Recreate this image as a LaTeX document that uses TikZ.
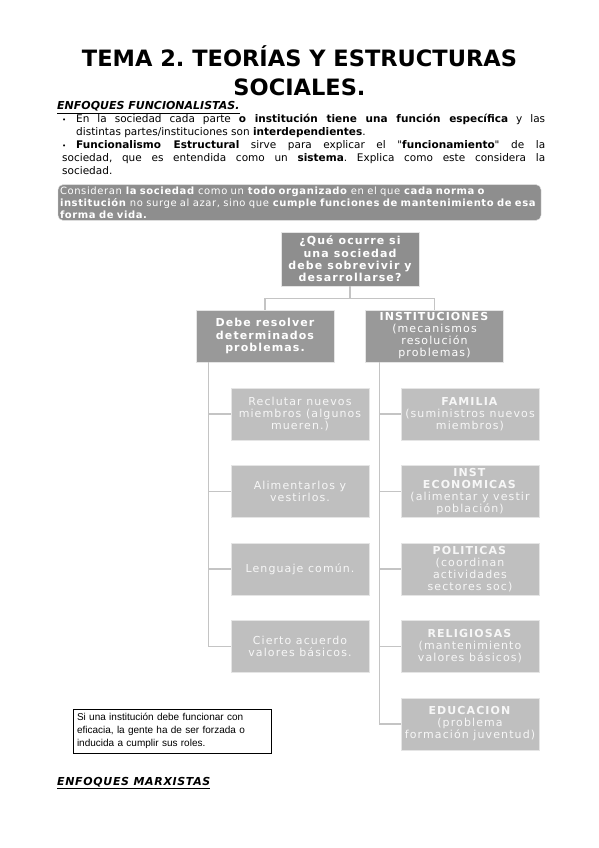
\documentclass[tikz,border=0pt]{standalone}
\usepackage{fontspec}
\setmainfont{DejaVu Sans}
\newfontfamily\textofont{DejaVu Sans}
\newfontfamily\cajafont[LetterSpace=10]{DejaVu Sans}
\newfontfamily\bandafont[LetterSpace=6]{DejaVu Sans}
\newfontfamily\notafont{Liberation Sans}
\usetikzlibrary{positioning}
\definecolor{grisosc}{RGB}{142,142,142}
\definecolor{grismed}{RGB}{153,153,153}
\definecolor{grisclaro}{RGB}{191,191,191}
\definecolor{grislinea}{RGB}{196,196,196}
\frenchspacing

\begin{document}
\begin{tikzpicture}[
    x=1pt, y=-1pt,
    caja/.style={align=center, inner sep=1pt, minimum width=138pt,
        draw=white!80!gray, line width=0.6pt, text=white,
        font=\cajafont\fontsize{11}{12}\selectfont},
    pregunta/.style={caja, fill=grisosc, minimum height=54pt,
        font=\cajafont\bfseries\fontsize{11}{12.3}\selectfont},
    nivel/.style={caja, fill=grismed, minimum height=52pt},
    hoja/.style={caja, fill=grisclaro, minimum height=52pt, text=white!94!gray},
    rama/.style={grislinea, line width=1.3pt},
    encabezado/.style={anchor=base west, inner sep=0pt,
        font=\bfseries\itshape\fontsize{11}{13}\selectfont}
]

% Fondo y marco de la pagina
\fill[white] (0,0) rectangle (599,848);
\useasboundingbox (0,0) rectangle (599,848);

% Titulo
\node[anchor=base, font=\bfseries\fontsize{22.5}{27}\selectfont] (titulo1) at (299.5,67) {TEMA 2. TEORÍAS Y ESTRUCTURAS};
\node[anchor=base, font=\bfseries\fontsize{22.5}{27}\selectfont] (titulo2) at (299.5,96) {SOCIALES.};

% Enfoques funcionalistas
\node[encabezado] (enfoque1) at (57,110) {\underline{ENFOQUES FUNCIONALISTAS.}};
\node[anchor=north west, text width=483pt, align=justify, inner sep=0pt,
      font=\textofont\fontsize{10.5}{13}\selectfont] (vinetas) at (62,114) {%
\parindent=0pt
\hangindent=14pt\hangafter=1\makebox[14pt][l]{\fontsize{7}{7}\selectfont•}En la sociedad cada parte \textbf{o institución tiene una función específica} y las\linebreak
distintas partes/instituciones son \textbf{interdependientes}.\par
\hangindent=14pt\hangafter=1\makebox[14pt][l]{\fontsize{7}{7}\selectfont•}\textbf{Funcionalismo Estructural} sirve para explicar el "\textbf{funcionamiento}" de la\linebreak
sociedad, que es entendida como un \textbf{sistema}. Explica como este considera la\linebreak
sociedad.};

% Banda gris
\node[fill=grisosc, draw=white!75!gray, rounded corners=5pt, minimum width=483pt,
      minimum height=35pt, text width=479pt, align=left, inner sep=2pt, text=white,
      font=\bandafont\fontsize{10}{12}\selectfont] (banda) at (299.5,202.5) {%
Consideran \textbf{la sociedad} como un \textbf{todo organizado} en el que \textbf{cada norma o}\\
\textbf{institución} no surge al azar, sino que \textbf{cumple funciones de mantenimiento de esa}\\
\textbf{forma de vida.}};

% Arbol
\node[pregunta] (pregunta) at (350,259) {¿Qué ocurre si\\ una sociedad\\ debe sobrevivir y\\ desarrollarse?};
\node[nivel, font=\cajafont\bfseries\fontsize{11}{12.3}\selectfont] (problemas) at (265,336) {Debe resolver\\ determinados\\ problemas.};
\node[nivel] (instituciones) at (434.5,336) {\textbf{INSTITUCIONES}\\ (mecanismos\\ resolución\\ problemas)};

% Problemas
\node[hoja] (reclutar) at (300,414) {Reclutar nuevos\\ miembros (algunos\\ mueren.)};
\node[hoja] (alimentar) at (300,491.5) {Alimentarlos y\\ vestirlos.};
\node[hoja] (lenguaje) at (300,569) {Lenguaje común.};
\node[hoja] (acuerdo) at (300,646.5) {Cierto acuerdo\\ valores básicos.};

% Instituciones
\node[hoja] (familia) at (470,414) {\textbf{FAMILIA}\\ (suministros nuevos\\ miembros)};
\node[hoja] (economicas) at (470,491.5) {\textbf{INST}\\ \textbf{ECONOMICAS}\\ (alimentar y vestir\\ población)};
\node[hoja] (politicas) at (470,569) {\textbf{POLITICAS}\\ (coordinan\\ actividades\\ sectores soc)};
\node[hoja] (religiosas) at (470,646.5) {\textbf{RELIGIOSAS}\\ (mantenimiento\\ valores básicos)};
\node[hoja] (educacion) at (470,724) {\textbf{EDUCACION}\\ (problema\\ formación juventud)};

% Conectores
\draw[rama] (pregunta.south) -- ++(0,12) coordinate (cruce);
\draw[rama] (cruce) -| (problemas.north);
\draw[rama] (cruce) -| (instituciones.north);

\coordinate (espL) at ([xshift=13pt]problemas.south west);
\draw[rama] (espL) |- (acuerdo.west);
\draw[rama] (espL |- reclutar.west) -- (reclutar.west);
\draw[rama] (espL |- alimentar.west) -- (alimentar.west);
\draw[rama] (espL |- lenguaje.west) -- (lenguaje.west);

\coordinate (espR) at ([xshift=14pt]instituciones.south west);
\draw[rama] (espR) |- (educacion.west);
\draw[rama] (espR |- familia.west) -- (familia.west);
\draw[rama] (espR |- economicas.west) -- (economicas.west);
\draw[rama] (espR |- politicas.west) -- (politicas.west);
\draw[rama] (espR |- religiosas.west) -- (religiosas.west);

% Nota
\node[draw=black, line width=1pt, minimum width=198pt, minimum height=44pt,
      text width=190pt, align=left, inner sep=3pt,
      font=\notafont\fontsize{10}{13}\selectfont] (nota) at (172,731) {Si una institución debe funcionar con\\ eficacia, la gente ha de ser forzada o\\ inducida a cumplir sus roles.};

% Enfoques marxistas
\node[encabezado] (enfoque2) at (57,785) {\underline{\addfontfeature{LetterSpace=6}ENFOQUES MARXISTAS}};

\end{tikzpicture}
\end{document}
